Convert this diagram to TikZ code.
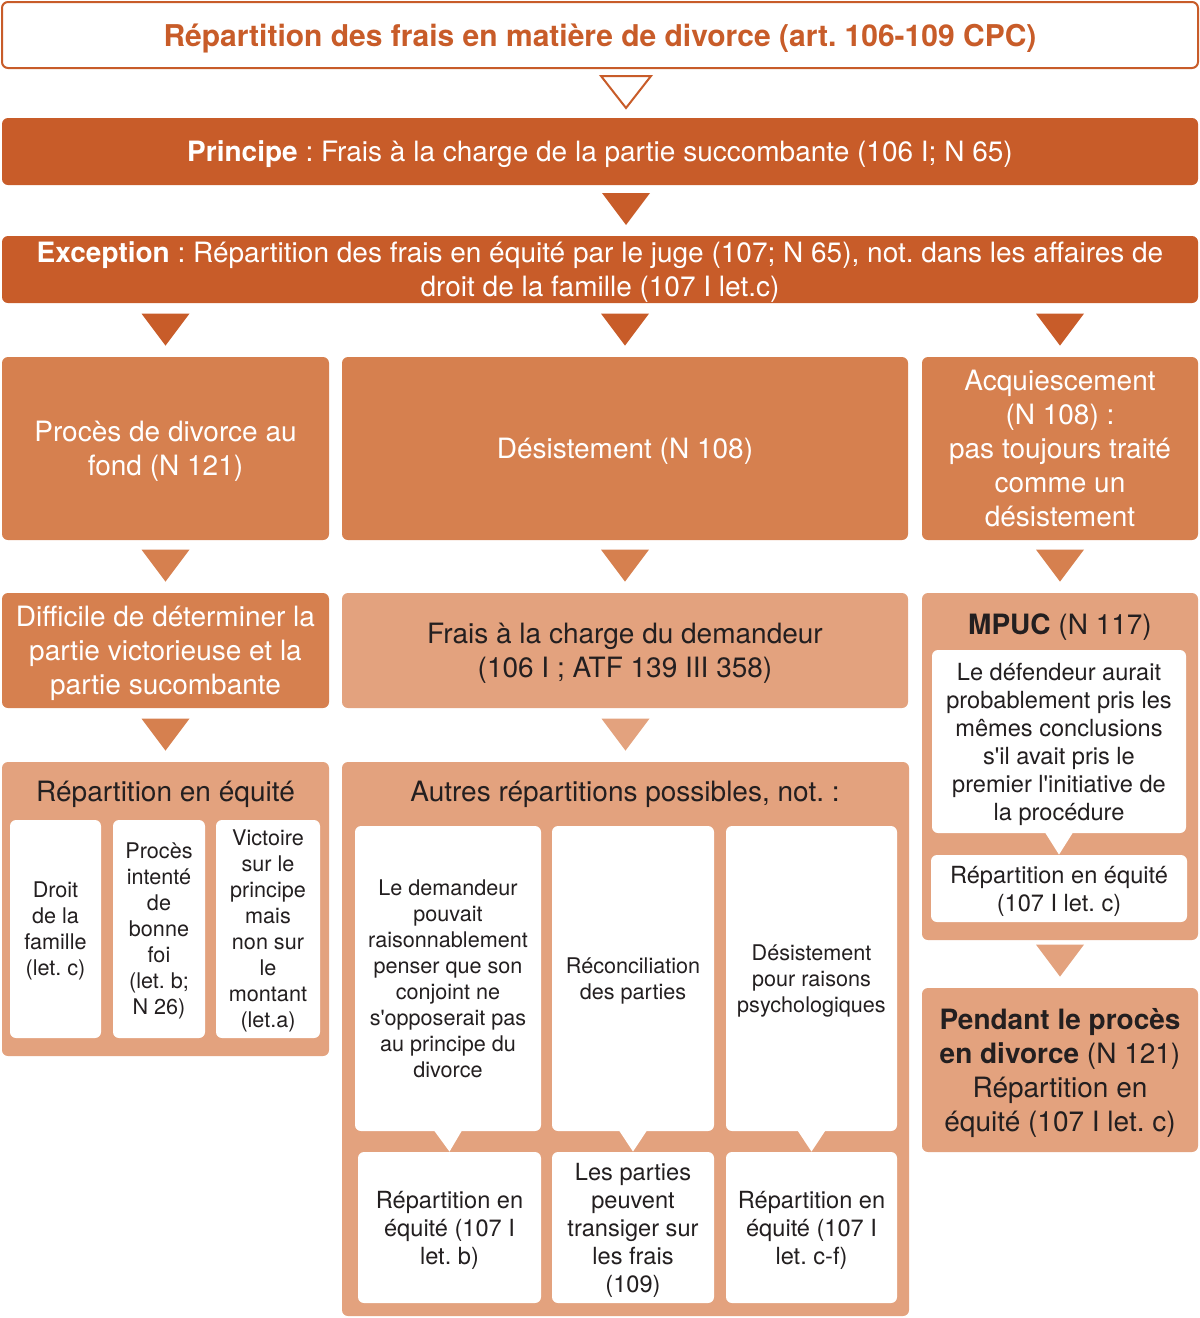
\documentclass[tikz,border=0pt]{standalone}
\usepackage{fontspec}
\setmainfont{TeX Gyre Heros}[Ligatures=TeXOff]
\usepackage{xcolor}
\usepackage{tikz}
\usetikzlibrary{calc}
\definecolor{DivDark}{RGB}{200,92,41}
\definecolor{DivMid}{RGB}{214,128,79}
\definecolor{DivLight}{RGB}{227,162,126}
\definecolor{DivText}{RGB}{35,31,32}

\tikzset{
  box/.style={rounded corners=3pt, align=center, inner sep=0pt, text depth=0pt},
  bigtext/.style={font=\fontsize{14}{17}\selectfont},
  midtext/.style={font=\fontsize{11.8}{14}\selectfont},
  smalltext/.style={font=\fontsize{10.8}{13}\selectfont},
  darkbox/.style={box, bigtext, fill=DivDark, text=white},
  midbox/.style={box, bigtext, fill=DivMid, text=white},
  lightbox/.style={box, bigtext, fill=DivLight, text=DivText},
  whitebox/.style={box, fill=white, text=DivText},
  titlebox/.style={box, draw=DivDark, line width=1pt, fill=white, text=DivDark,
    font=\fontsize{15}{18}\selectfont\bfseries},
}

% triangle pointing down onto a point (top of the next box)
\newcommand{\flowtri}[2]{%
  \fill[#1] ($(#2)+(-24,-43)$) -- ($(#2)+(24,-43)$) -- ($(#2)+(0,-11)$) -- cycle;}
% white pointer between two inner boxes
\newcommand{\innertip}[2]{%
  \fill[white] ($(#1.south)+(-14,-1)$) -- ($(#1.south)+(14,-1)$) -- (#2.north) -- cycle;}

\begin{document}
\frenchspacing
\begin{tikzpicture}[x=0.5pt, y=-0.5pt]
    \useasboundingbox (0,0) rectangle (1200,1318);

    % Title
    \node[titlebox, minimum width=598pt, minimum height=33pt] (titre) at (600,35)
        {Répartition des frais en matière de divorce (art. 106-109 CPC)};

    % Principle and exception
    \node[darkbox, minimum width=598pt, minimum height=33.5pt] (principe) at (600,151.5)
        {\textbf{Principe} : Frais à la charge de la partie succombante (106 I; N 65)};
    \node[darkbox, minimum width=598pt, minimum height=33.5pt] (exception) at (600,269.5)
        {\textbf{Exception} : Répartition des frais en équité par le juge (107; N 65), not. dans les affaires de\\
         droit de la famille (107 I let.c)};

    \coordinate (princtop) at (626,118);
    \coordinate (exctop) at (626,236);
    \draw[DivDark, line width=1pt, fill=white] ($(princtop)+(-25,-42)$) -- ($(princtop)+(25,-42)$)
        -- ($(princtop)+(0,-10)$) -- cycle;
    \flowtri{DivDark}{exctop}

    % Three cases
    \node[midbox, minimum width=163.5pt, minimum height=91.5pt] (fond) at (165.5,448.5)
        {Procès de divorce au\\fond (N 121)};
    \node[midbox, minimum width=283pt, minimum height=91.5pt] (desist) at (625,448.5)
        {Désistement (N 108)};
    \node[midbox, minimum width=138pt, minimum height=91.5pt] (acquiesc) at (1060,448.5)
        {Acquiescement\\(N 108) :\\pas toujours traité\\comme un\\désistement};

    \flowtri{DivDark}{fond.north}
    \flowtri{DivDark}{desist.north}
    \flowtri{DivDark}{acquiesc.north}

    % Consequences
    \node[midbox, minimum width=163.5pt, minimum height=57.5pt] (difficile) at (165.5,650.5)
        {Difficile de déterminer la\\partie victorieuse et la\\partie sucombante};
    \node[lightbox, minimum width=283pt, minimum height=57.5pt] (demandeur) at (625,650.5)
        {Frais à la charge du demandeur\\(106 I ; ATF 139 III 358)};
    \node[lightbox, minimum width=138pt, minimum height=173.5pt] (mpuc) at (1060,766.5) {};
    \node[bigtext, text=DivText] (mpuctitre) at (1060,627) {\textbf{MPUC} (N 117)};
    \node[whitebox, midtext, minimum width=127pt, minimum height=91.5pt] (defendeur) at (1059,741.5)
        {Le défendeur aurait\\probablement pris les\\mêmes conclusions\\s'il avait pris le\\premier l'initiative de\\la procédure};
    \node[whitebox, midtext, minimum width=128pt, minimum height=33.5pt] (mpucequite) at (1059,888.5)
        {Répartition en équité\\(107 I let. c)};
    \innertip{defendeur}{mpucequite}

    \flowtri{DivMid}{difficile.north}
    \flowtri{DivMid}{demandeur.north}
    \flowtri{DivMid}{mpuc.north}

    % Fair distribution, left
    \node[lightbox, minimum width=163.5pt, minimum height=147pt] (equite) at (165.5,909) {};
    \node[bigtext, text=DivText] (equitetitre) at (165.5,794) {Répartition en équité};
    \node[whitebox, smalltext, minimum width=45.5pt, minimum height=109pt] (famille) at (55.5,929)
        {Droit\\de la\\famille\\(let. c)};
    \node[whitebox, smalltext, minimum width=46pt, minimum height=109pt] (bonnefoi) at (159,929)
        {Procès\\intenté\\de\\bonne\\foi\\(let. b;\\N 26)};
    \node[whitebox, smalltext, minimum width=52pt, minimum height=109pt] (victoire) at (268,929)
        {Victoire\\sur le\\principe\\mais\\non sur\\le\\montant\\(let.a)};

    \flowtri{DivMid}{equite.north}

    % Other distributions, middle
    \node[lightbox, minimum width=283.5pt, minimum height=277pt] (autres) at (625.5,1039) {};
    \node[bigtext, text=DivText] (autrestitre) at (625,794) {Autres répartitions possibles, not. :};
    \node[whitebox, smalltext, minimum width=93pt, minimum height=152.5pt] (pouvait) at (448,978.5)
        {Le demandeur\\pouvait\\raisonnablement\\penser que son\\conjoint ne\\s'opposerait pas\\au principe du\\divorce};
    \node[whitebox, smalltext, minimum width=81pt, minimum height=152.5pt] (reconc) at (633,978.5)
        {Réconciliation\\des parties};
    \node[whitebox, smalltext, minimum width=85.5pt, minimum height=152.5pt] (psycho) at (811.5,978.5)
        {Désistement\\pour raisons\\psychologiques};
    \node[whitebox, midtext, minimum width=91.5pt, minimum height=75.5pt] (letb) at (449.5,1227.5)
        {Répartition en\\équité (107 I\\let. b)};
    \node[whitebox, midtext, minimum width=81pt, minimum height=75.5pt] (transiger) at (633,1227.5)
        {Les parties\\peuvent\\transiger sur\\les frais\\(109)};
    \node[whitebox, midtext, minimum width=85.5pt, minimum height=75.5pt] (letcf) at (811.5,1227.5)
        {Répartition en\\équité (107 I\\let. c-f)};
    \innertip{pouvait}{letb}
    \innertip{reconc}{transiger}
    \innertip{psycho}{letcf}

    % During the divorce trial
    \node[lightbox, minimum width=138pt, minimum height=82pt] (pendant) at (1060,1070)
        {\textbf{Pendant le procès}\\\textbf{en divorce} (N 121)\\Répartition en\\équité (107 I let. c)};
    \flowtri{DivLight}{pendant.north}
    \flowtri{DivLight}{autres.north}
\end{tikzpicture}
\end{document}
